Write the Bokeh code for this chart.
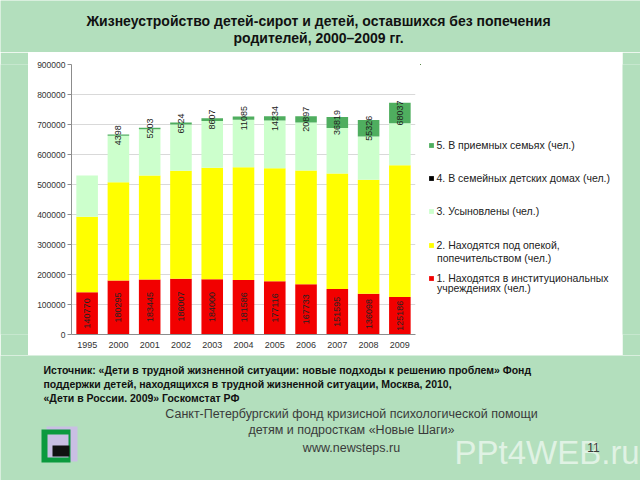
from math import pi
from bokeh.plotting import figure
from bokeh.layouts import column, row
from bokeh.models import (Range1d, Label, BoxAnnotation, Legend, LegendItem, FixedTicker,
                          ColumnDataSource, NumeralTickFormatter, SingleIntervalTicker)
from bokeh.embed import file_html
from bokeh.resources import INLINE

# ---------------- data ----------------
years = ["1995", "2000", "2001", "2002", "2003", "2004", "2005", "2006", "2007", "2008", "2009"]
institutions = [140770, 180295, 183445, 186007, 184000, 181586, 177116, 167733, 151595, 136098, 125186]
guardianship = [252000, 327000, 346500, 359500, 371500, 376000, 377000, 379000, 385000, 379500, 439000]
adopted = [137000, 155000, 154000, 154500, 156500, 158000, 159000, 160000, 152000, 144400, 140000]
family_homes = [0, 0, 0, 0, 0, 0, 0, 0, 0, 0, 0]
foster = [0, 4398, 5203, 6524, 8607, 11085, 14234, 20897, 36819, 55326, 68037]

series_names = [
    "1. Находятся в институциональных",
    "2. Находятся под опекой,",
    "3. Усыновлены (чел.)",
    "4. В семейных детских домах (чел.)",
    "5. В приемных семьях (чел.)",
]
series_second_lines = ["учреждениях (чел.)", "попечительством (чел.)"]
y_ticks_step = 100000
y_max = 900000

title_lines = ["Жизнеустройство детей-сирот и детей, оставшихся без попечения",
               "родителей, 2000–2009 гг."]
source_lines = [
    "Источник: «Дети в трудной жизненной ситуации: новые подходы к решению проблем» Фонд",
    "поддержки детей, находящихся в трудной жизненной ситуации, Москва, 2010,",
    "«Дети в России. 2009» Госкомстат РФ",
]
footer_lines = ["Санкт-Петербургский фонд кризисной психологической помощи",
                "детям и подросткам «Новые Шаги»",
                "www.newsteps.ru"]
page_number = "11"
watermark = "PPt4WEB.ru"

# ---------------- styles ----------------
BG = "#b3dfbd"
colors = ["#f20000", "#ffff00", "#ccffcc", "#000000", "#4fae5f"]
FONT = "Liberation Sans"
keys = ["inst", "guard", "adopt", "fam", "foster"]


def blank(w, h, x0, y0, fill=BG):
    """Empty panel whose data coordinates are page pixels (y downwards)."""
    f = figure(width=w, height=h, x_range=Range1d(x0, x0 + w), y_range=Range1d(y0 + h, y0),
               x_axis_location=None, y_axis_location=None, toolbar_location=None,
               output_backend="svg", min_border=0, outline_line_color=None,
               background_fill_color=fill, border_fill_color=fill)
    f.grid.visible = False
    f.title.visible = False
    return f


def label(f, x, y, text, size, align="left", bold=False, color="#111111", alpha=1.0):
    f.add_layout(Label(x=x, y=y, text=text, text_align=align, text_baseline="middle",
                       text_font_size=size, text_font=FONT,
                       text_font_style="bold" if bold else "normal",
                       text_color=color, text_alpha=alpha))


# ---------------- title panel ----------------
top = blank(640, 52, 0, 0)
for txt, yc in zip(title_lines, [20, 37]):
    label(top, 318, yc, txt, "14px", align="center", bold=True)

# ---------------- main chart ----------------
positions = list(range(len(years)))
red_mid = [v / 2 for v in institutions]
foster_mid = [a + b + c + d + e / 2 for a, b, c, d, e in
              zip(institutions, guardianship, adopted, family_homes, foster)]
src = ColumnDataSource(dict(
    pos=positions, inst=institutions, guard=guardianship, adopt=adopted,
    fam=family_homes, foster=foster,
    red_mid=red_mid, red_lbl=[str(v) for v in institutions],
    foster_mid=foster_mid, foster_lbl=[str(v) if v else "" for v in foster],
))

p = figure(x_range=Range1d(-0.5, len(years) - 0.5), y_range=Range1d(0, y_max),
           width=392, height=303, output_backend="svg", toolbar_location=None,
           min_border_left=43, min_border_right=5, min_border_top=12, min_border_bottom=21,
           border_fill_color="white", background_fill_color="white", outline_line_color=None)
p.title.visible = False

rs = p.vbar_stack(keys, x="pos", width=0.69, source=src, fill_color=colors, line_color=None)

p.text(x="pos", y="red_mid", text="red_lbl", source=src, angle=pi / 2,
       text_align="center", text_baseline="middle", text_font_size="9px",
       text_color="#222222", text_font={"value": FONT})
p.text(x="pos", y="foster_mid", text="foster_lbl", source=src, angle=pi / 2,
       text_align="center", text_baseline="middle", text_font_size="9px",
       text_color="#222222", text_font={"value": FONT})

p.yaxis.ticker = SingleIntervalTicker(interval=y_ticks_step)
p.yaxis.formatter = NumeralTickFormatter(format="0")
p.yaxis.major_label_text_font_size = "8.5px"
p.yaxis.major_label_text_font = FONT
p.yaxis.major_label_text_color = "#333333"
p.yaxis.axis_line_color = "#8c8c8c"
p.yaxis.major_tick_line_color = "#8c8c8c"
p.yaxis.major_tick_out = 4
p.yaxis.major_tick_in = 0
p.yaxis.minor_tick_line_color = None
p.yaxis.major_label_standoff = 2

p.xaxis.ticker = FixedTicker(ticks=positions)
p.xaxis.major_label_overrides = {i: y for i, y in zip(positions, years)}
p.xaxis.major_label_text_font_size = "9px"
p.xaxis.major_label_text_font = FONT
p.xaxis.major_label_text_color = "#333333"
p.xaxis.axis_line_color = "#8c8c8c"
p.xaxis.major_tick_line_color = None
p.xaxis.minor_tick_line_color = None
p.xaxis.major_tick_out = 4
p.xaxis.major_label_standoff = 3

p.xgrid.grid_line_color = None
p.ygrid.grid_line_color = "#d9d9d9"

# ---------------- legend panel ----------------
# legend proxies reuse the chart data on helper ranges that put them outside this
# panel and squash them to (practically) zero height
leg = blank(202, 303, 420, 52, fill="white")
leg.extra_x_ranges = {"d": Range1d(100, 110)}
leg.extra_y_ranges = {"d": Range1d(-1e13, -1e12)}
proxies = [leg.vbar(x="pos", top=k, width=0.69, source=src, fill_color=c, line_color=None,
                    x_range_name="d", y_range_name="d")
           for k, c in zip(keys, colors)]
LEG_DY = 21      # measured layout offset of legend boxes in this panel
LAB_DY = 12.5    # measured layout offset of labels in this panel
legend_y = [145, 178, 211, 244.5, 277.5]   # entry centres, page px
order = [4, 3, 2, 1, 0]
for yc, i in zip(legend_y, order):
    lg = Legend(items=[LegendItem(label=series_names[i], renderers=[proxies[i]])],
                location=(427.5 - 420, 355 - (yc + LEG_DY) - 6), padding=0, margin=0, spacing=0,
                glyph_width=6, glyph_height=6, label_standoff=3, label_height=12,
                label_text_font_size="10.5px", label_text_font=FONT, label_text_color="#222222",
                background_fill_alpha=0, border_line_alpha=0)
    leg.add_layout(lg)
for txt, yc in zip(series_second_lines, [290.5, 257]):
    label(leg, 436.5, yc + LAB_DY, txt, "10.5px", color="#222222")

strip_l = blank(28, 303, 0, 52)
strip_r = blank(18, 303, 622, 52)

# ---------------- footer panel ----------------
bot = blank(640, 125, 0, 355)
for txt, yc in zip(source_lines, [369, 383, 397]):
    label(bot, 43, yc, txt, "10.5px", bold=True)
for txt, yc in zip(footer_lines, [413, 429, 447]):
    label(bot, 351, yc, txt, "12.5px", align="center", color="#3a3a3a")
label(bot, 454, 452, watermark, "33px", color="white", alpha=0.6)
label(bot, 593, 447, page_number, "12px", align="center", color="#3a3a3a")
for l, r, t, b, c in [(46, 77, 426, 461, "#c9bfe3"), (41, 70, 429, 462, "#0b9a3e"),
                      (47, 68, 434, 457, "#c9bfe3"), (52, 69, 445, 456, "#111111")]:
    bot.add_layout(BoxAnnotation(left=l, right=r, top=t, bottom=b,
                                 fill_color=c, fill_alpha=1, line_color=None))

page = column(top, row(strip_l, p, leg, strip_r), bot)
open("out.html", "w").write(file_html(page, INLINE))
